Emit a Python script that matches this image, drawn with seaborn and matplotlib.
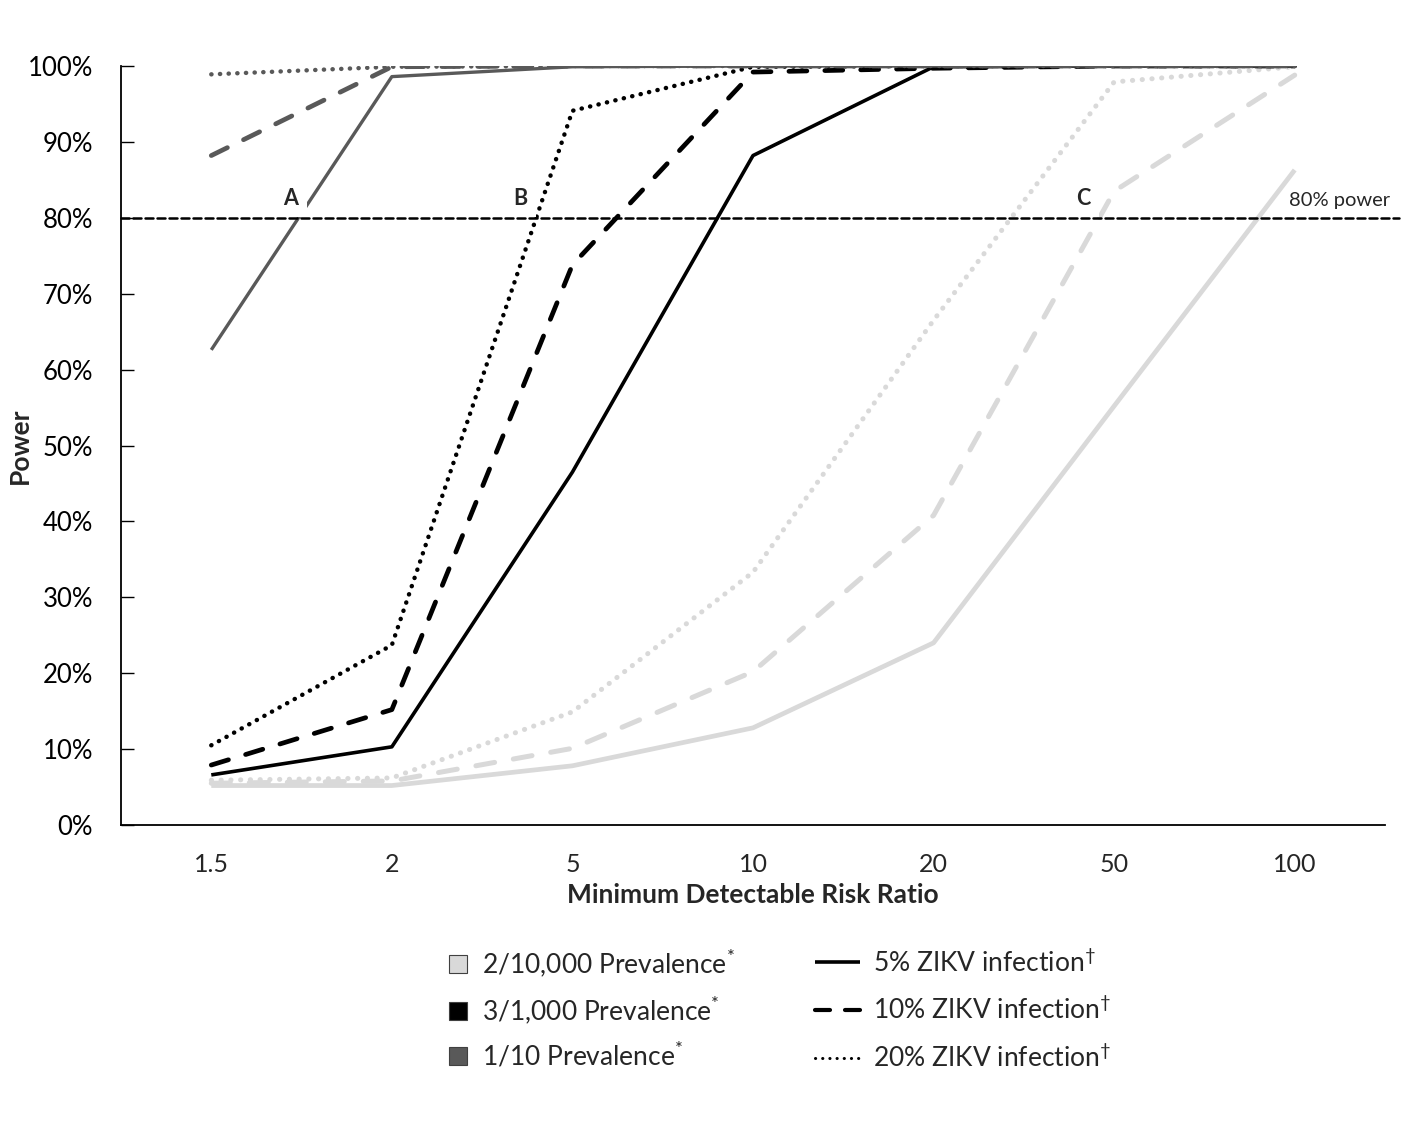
import matplotlib
matplotlib.use("Agg")
import matplotlib.pyplot as plt
import seaborn as sns
import pandas as pd
from matplotlib.lines import Line2D

# ---- data ----
risk_ratios = ["1.5", "2", "5", "10", "20", "50", "100"]
prevalences = ["2/10,000", "3/1,000", "1/10"]
infections = ["5%", "10%", "20%"]

# power (%) for 2/10,000 prevalence
p_low_5 = [5.2, 5.2, 7.8, 12.8, 24.0, 55.2, 86.3]
p_low_10 = [5.5, 5.8, 10.1, 20.2, 40.8, 83.5, 98.8]
p_low_20 = [5.9, 6.2, 14.9, 33.3, 66.5, 97.9, 99.9]
# power (%) for 3/1,000 prevalence
p_mid_5 = [6.6, 10.3, 46.5, 88.2, 99.9, 100.0, 100.0]
p_mid_10 = [7.9, 15.2, 73.8, 99.2, 99.7, 100.0, 100.0]
p_mid_20 = [10.5, 23.7, 94.1, 99.9, 100.0, 100.0, 100.0]
# power (%) for 1/10 prevalence
p_high_5 = [62.6, 98.6, 99.9, 100.0, 100.0, 100.0, 100.0]
p_high_10 = [88.2, 99.9, 100.0, 100.0, 100.0, 100.0, 100.0]
p_high_20 = [98.9, 99.9, 100.0, 100.0, 100.0, 100.0, 100.0]

threshold = 80
letters = ["A", "B", "C"]
letter_x = [0.44, 1.71, 4.83]

rows = []
series = {
    ("2/10,000", "5%"): p_low_5, ("2/10,000", "10%"): p_low_10, ("2/10,000", "20%"): p_low_20,
    ("3/1,000", "5%"): p_mid_5, ("3/1,000", "10%"): p_mid_10, ("3/1,000", "20%"): p_mid_20,
    ("1/10", "5%"): p_high_5, ("1/10", "10%"): p_high_10, ("1/10", "20%"): p_high_20,
}
for (prev, inf), vals in series.items():
    for rr, v in zip(risk_ratios, vals):
        rows.append({"rr": rr, "power": v, "prev": prev, "inf": inf})
df = pd.DataFrame(rows)

# ---- style ----
sns.set_style("white")
plt.rcParams["font.family"] = ["Lato", "DejaVu Sans"]
plt.rcParams["mathtext.fontset"] = "custom"
plt.rcParams["mathtext.rm"] = "Lato"
plt.rcParams["lines.dash_capstyle"] = "round"
plt.rcParams["lines.solid_capstyle"] = "butt"

colors = {"2/10,000": "#d9d9d9", "3/1,000": "#000000", "1/10": "#595959"}
solid_widths = {"2/10,000": 3.4, "3/1,000": 2.6, "1/10": 2.4}
dash_widths = {"2/10,000": 3.6, "3/1,000": 3.4, "1/10": 3.4}
dot_widths = {"2/10,000": 3.6, "3/1,000": 3.2, "1/10": 3.2}

fig = plt.figure(figsize=(14.22, 11.31), dpi=100)
ax = fig.add_axes([121 / 1422, 1 - 825 / 1131, (1385 - 121) / 1422, (825 - 66) / 1131])

for prev in prevalences:
    s5 = df[(df["prev"] == prev) & (df["inf"] == "5%")]
    sns.lineplot(data=s5, x="rr", y="power", color=colors[prev],
                 linewidth=solid_widths[prev], sort=False, legend=False, ax=ax, zorder=2)
    s10 = df[(df["prev"] == prev) & (df["inf"] == "10%")]
    sns.lineplot(data=s10, x="rr", y="power", color=colors[prev],
                 linewidth=dash_widths[prev], sort=False, legend=False, ax=ax, zorder=2)
    ax.lines[-1].set_dashes((3.8, 3.8))
    s20 = df[(df["prev"] == prev) & (df["inf"] == "20%")]
    sns.lineplot(data=s20, x="rr", y="power", color=colors[prev],
                 linewidth=dot_widths[prev], sort=False, legend=False, ax=ax, zorder=2)
    ax.lines[-1].set_dashes((0.05, 1.9))

ax.set_xlim(-0.5, len(risk_ratios) - 0.5)
ax.set_ylim(0, 100)
ax.set_yticks(range(0, 101, 10))
ax.set_yticklabels([f"{v}%" for v in range(0, 101, 10)], fontsize=18.5)
ax.tick_params(axis="y", direction="in", length=9, width=1, pad=20, left=True, colors="black")
ax.tick_params(axis="x", length=0, pad=20, labelsize=18)
for s in ["top", "right"]:
    ax.spines[s].set_visible(False)
for s in ["left", "bottom"]:
    ax.spines[s].set_color("black")
    ax.spines[s].set_linewidth(1.3)

ax.set_xlabel("Minimum Detectable Risk Ratio", fontsize=19, fontweight="bold", labelpad=5)
ax.set_ylabel("Power", fontsize=19, fontweight="bold")
ax.yaxis.set_label_coords((32 - 121) / 1264, 0.5)

# 80% line
ax.axhline(threshold, xmin=0, xmax=1.011, color="black", linestyle=(0, (3.2, 1.6)),
           linewidth=1.8, clip_on=False, zorder=5)
ax.text(6.53, threshold + 1.2, "80% power", fontsize=14.5, ha="right", va="bottom", zorder=6)
for lt, lx in zip(letters, letter_x):
    ax.text(lx, threshold + 1.2, lt, fontsize=15.5, fontweight="bold", ha="center", va="bottom",
            zorder=4, bbox=dict(facecolor="white", edgecolor="none", pad=6))

# legends
sq_handles = [Line2D([], [], marker="s", linestyle="none", markersize=13,
                     markerfacecolor=colors[p], markeredgecolor="#404040", markeredgewidth=0.8)
              for p in prevalences]
sq_labels = [f"{p} Prevalence$^{{*}}$" for p in prevalences]
leg1 = fig.legend(sq_handles, sq_labels, loc="upper left", bbox_to_anchor=(445 / 1422, 1 - 946 / 1131),
                  frameon=False, fontsize=19, handlelength=1.0, handletextpad=0.4,
                  labelspacing=0.55, borderpad=0, borderaxespad=0)
ln_handles = [Line2D([], [], color="black", linewidth=2.6, linestyle="-"),
              Line2D([], [], color="black", linewidth=3.0, dashes=(3.6, 3.6)),
              Line2D([], [], color="black", linewidth=2.2, dashes=(0.05, 2.3))]
ln_labels = [f"{i} ZIKV infection$^{{\\dagger}}$" for i in infections]
leg2 = fig.legend(ln_handles, ln_labels, loc="upper left", bbox_to_anchor=(815 / 1422, 1 - 948 / 1131),
                  frameon=False, fontsize=19, handlelength=1.7, handletextpad=0.5,
                  labelspacing=0.73, borderpad=0, borderaxespad=0)

fig.savefig("out.png", dpi=100, facecolor="white")
